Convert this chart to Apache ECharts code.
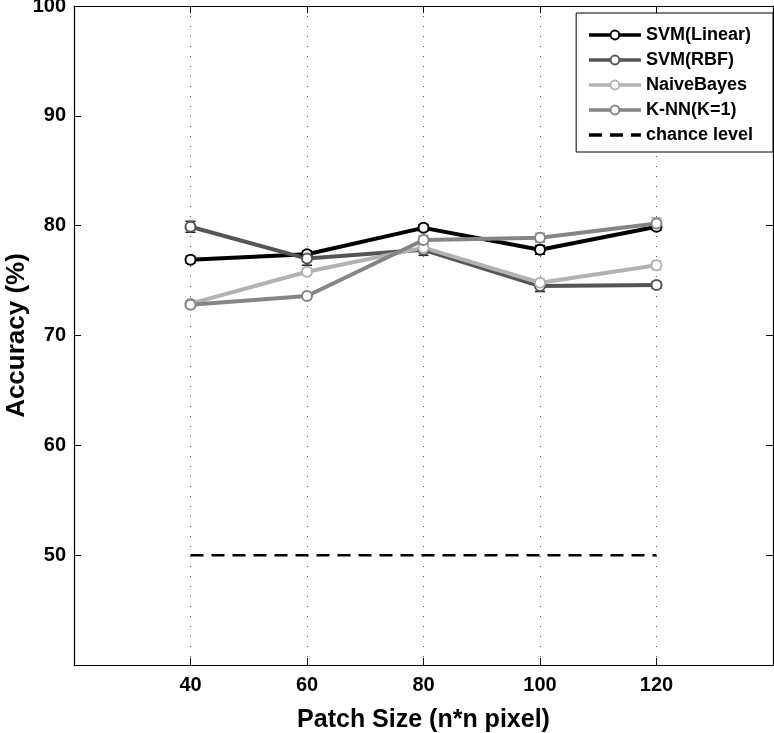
<!DOCTYPE html>
<html>
<head>
<meta charset="utf-8">
<script src="https://cdn.jsdelivr.net/npm/echarts@6/dist/echarts.min.js"></script>
<style>html,body{margin:0;padding:0;background:#fff}#c{width:774px;height:733px}</style>
</head>
<body>
<div id="c"></div>
<script>
var patchSizes = [40, 60, 80, 100, 120];
var svmLinear = [76.9, 77.4, 79.8, 77.8, 79.9];
var svmRBF = [79.9, 77.0, 77.8, 74.5, 74.6];
var naiveBayes = [72.9, 75.8, 78.0, 74.8, 76.4];
var knn = [72.8, 73.6, 78.7, 78.9, 80.2];
var errLinear = [0.3, 0.3, 0.3, 0.4, 0.3];
var errRBF = [0.5, 0.6, 0.5, 0.5, 0.3];
var errNaive = [0.3, 0.3, 0.3, 0.3, 0.4];
var errKnn = [0.3, 0.3, 0.4, 0.4, 0.5];
var chanceX = [40, 120];
var chanceY = [50, 50];
var seriesNames = ['SVM(Linear)', 'SVM(RBF)', 'NaiveBayes', 'K-NN(K=1)', 'chance level'];
var colors = ['#000000', '#555555', '#b2b2b2', '#858585', '#000000'];

var chart = echarts.init(document.getElementById('c'));
var font = 'Liberation Sans, Arial, sans-serif';

function pts(xs, ys) { return xs.map(function (x, i) { return [x, ys[i]]; }); }
function errData(xs, ys, es) { return xs.map(function (x, i) { return [x, ys[i] - es[i], ys[i] + es[i]]; }); }
function errSeries(xs, ys, es, color) {
  return {
    type: 'custom', silent: true, z: 3,
    data: errData(xs, ys, es),
    renderItem: function (params, api) {
      var lo = api.coord([api.value(0), api.value(1)]);
      var hi = api.coord([api.value(0), api.value(2)]);
      var w = 5;
      var st = { stroke: color, lineWidth: 1.5 };
      return { type: 'group', children: [
        { type: 'line', shape: { x1: lo[0], y1: lo[1], x2: hi[0], y2: hi[1] }, style: st },
        { type: 'line', shape: { x1: lo[0] - w, y1: lo[1], x2: lo[0] + w, y2: lo[1] }, style: st },
        { type: 'line', shape: { x1: hi[0] - w, y1: hi[1], x2: hi[0] + w, y2: hi[1] }, style: st }
      ]};
    }
  };
}
function lineSeries(name, ys, color) {
  return {
    name: name, type: 'line', data: pts(patchSizes, ys),
    symbol: 'emptyCircle', symbolSize: 10, z: 4,
    lineStyle: { color: color, width: 4 },
    itemStyle: { color: color, borderWidth: 2.5 }
  };
}

var axisLineStyle = { lineStyle: { color: '#000', width: 1.2 } };
chart.setOption({
  animation: false,
  backgroundColor: '#fff',
  color: colors,
  grid: { left: 74, right: 1, top: 6, bottom: 68, outerBoundsMode: 'none', containLabel: false },
  legend: {
    data: [
      { name: seriesNames[0] }, { name: seriesNames[1] }, { name: seriesNames[2] }, { name: seriesNames[3] },
      { name: seriesNames[4], itemStyle: { opacity: 0 } }
    ],
    orient: 'vertical', right: 1, top: 13,
    backgroundColor: '#fff', borderColor: '#000', borderWidth: 1,
    padding: [13, 20, 8, 11], itemGap: 7, itemWidth: 52, itemHeight: 11,
    lineStyle: { width: 3.5 },
    textStyle: { fontFamily: font, fontWeight: 'bold', fontSize: 18, color: '#000' }
  },
  xAxis: [{
    type: 'value', min: 20, max: 140, interval: 20,
    name: 'Patch Size (n*n pixel)', nameLocation: 'middle', nameGap: 43,
    nameTextStyle: { fontFamily: font, fontWeight: 'bold', fontSize: 25, color: '#000' },
    axisLine: axisLineStyle,
    axisTick: { inside: true, length: 7, lineStyle: { color: '#000' } },
    axisLabel: { fontFamily: font, fontWeight: 'bold', fontSize: 20, color: '#000', margin: 10,
      formatter: function (v) { return (v === 20 || v === 140) ? '' : v; } },
    splitLine: { show: true, lineStyle: { color: '#555', type: [1, 9], width: 1 } }
  }, {
    type: 'value', position: 'top', min: 20, max: 140, interval: 20,
    axisLine: axisLineStyle,
    axisTick: { inside: true, length: 7, lineStyle: { color: '#000' } },
    axisLabel: { show: false }, splitLine: { show: false }
  }],
  yAxis: [{
    type: 'value', min: 40, max: 100, interval: 10,
    name: 'Accuracy (%)', nameLocation: 'middle', nameGap: 44, nameMoveOverlap: false,
    nameTextStyle: { fontFamily: font, fontWeight: 'bold', fontSize: 26, color: '#000' },
    axisLine: { show: true, lineStyle: { color: '#000', width: 1.2 } },
    axisTick: { show: true, inside: true, length: 7, lineStyle: { color: '#000' } },
    axisLabel: { fontFamily: font, fontWeight: 'bold', fontSize: 20, color: '#000', margin: 8,
      formatter: function (v) { return v === 40 ? '' : v; } },
    splitLine: { show: false }
  }, {
    type: 'value', position: 'right', min: 40, max: 100, interval: 10,
    axisLine: { show: true, lineStyle: { color: '#000', width: 1.2 } },
    axisTick: { show: true, inside: true, length: 7, lineStyle: { color: '#000' } },
    axisLabel: { show: false }, splitLine: { show: false }
  }],
  series: [
    lineSeries(seriesNames[0], svmLinear, colors[0]),
    lineSeries(seriesNames[1], svmRBF, colors[1]),
    lineSeries(seriesNames[2], naiveBayes, colors[2]),
    lineSeries(seriesNames[3], knn, colors[3]),
    {
      name: seriesNames[4], type: 'line', data: pts(chanceX, chanceY), symbol: 'none',
      lineStyle: { color: '#000', width: 2.5, type: [13, 8] }, itemStyle: { color: '#000' }
    },
    errSeries(patchSizes, svmLinear, errLinear, colors[0]),
    errSeries(patchSizes, svmRBF, errRBF, '#222'),
    errSeries(patchSizes, naiveBayes, errNaive, '#bbbbbb'),
    errSeries(patchSizes, knn, errKnn, '#999999')
  ]
});
</script>
</body>
</html>
